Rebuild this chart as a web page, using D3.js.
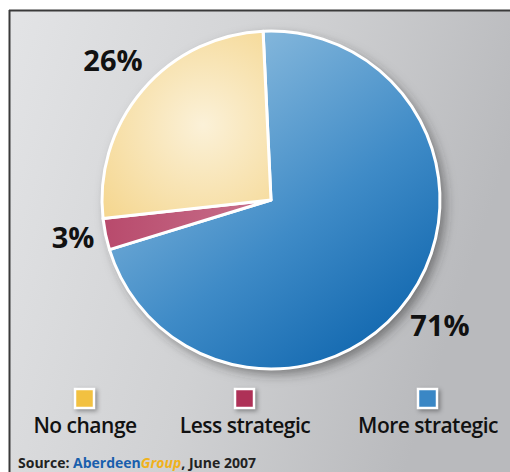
<!DOCTYPE html>
<html>
<head>
<meta charset="utf-8">
<script src="https://cdn.jsdelivr.net/npm/d3@7"></script>
<style>
  body { margin: 0; background: #fff; }
  svg { display: block; font-family: "Open Sans", "DejaVu Sans", sans-serif; }
</style>
</head>
<body>
<svg width="510" height="472"></svg>
<script>
// chart data
var categories = ["More strategic", "Less strategic", "No change"];
var values = [71, 3, 26];
var labels = ["71%", "3%", "26%"];
var legendOrder = ["No change", "Less strategic", "More strategic"];

var svg = d3.select("svg");
const width = 510, height = 472;
const cx = 271, cy = 200, radius = 169;

var defs = svg.append("defs");

// background gradient
var bg = defs.append("linearGradient").attr("id", "bg")
    .attr("x1", 0).attr("y1", 0).attr("x2", 1).attr("y2", 0.3);
bg.append("stop").attr("offset", "0%").attr("stop-color", "#e3e4e6");
bg.append("stop").attr("offset", "55%").attr("stop-color", "#d0d1d3");
bg.append("stop").attr("offset", "100%").attr("stop-color", "#b9babd");

// slice gradients (coords relative to pie centre)
var gBlue = defs.append("linearGradient").attr("id", "gBlue")
    .attr("gradientUnits", "userSpaceOnUse")
    .attr("x1", -70).attr("y1", -130).attr("x2", 150).attr("y2", 160);
gBlue.append("stop").attr("offset", "0%").attr("stop-color", "#86b8dc");
gBlue.append("stop").attr("offset", "50%").attr("stop-color", "#3f8bc7");
gBlue.append("stop").attr("offset", "100%").attr("stop-color", "#0860aa");

var gYellow = defs.append("radialGradient").attr("id", "gYellow")
    .attr("gradientUnits", "userSpaceOnUse")
    .attr("cx", -68).attr("cy", -75).attr("r", 150);
gYellow.append("stop").attr("offset", "0%").attr("stop-color", "#fbf1d8");
gYellow.append("stop").attr("offset", "100%").attr("stop-color", "#f4d386");

var gRed = defs.append("linearGradient").attr("id", "gRed")
    .attr("x1", 0).attr("y1", 0).attr("x2", 1).attr("y2", 0);
gRed.append("stop").attr("offset", "0%").attr("stop-color", "#b84a6c");
gRed.append("stop").attr("offset", "100%").attr("stop-color", "#c8718c");

var shadow = defs.append("filter").attr("id", "shadow")
    .attr("x", "-20%").attr("y", "-20%").attr("width", "140%").attr("height", "140%");
shadow.append("feDropShadow").attr("dx", 5).attr("dy", 5)
    .attr("stdDeviation", 6).attr("flood-color", "#333").attr("flood-opacity", 0.55);

var fills = {"More strategic": "url(#gBlue)", "Less strategic": "url(#gRed)", "No change": "url(#gYellow)"};
var legendColors = {"No change": "#f2c141", "Less strategic": "#ae3157", "More strategic": "#3a87c5"};

// frame
svg.append("rect").attr("x", 9).attr("y", 10)
    .attr("width", width - 9).attr("height", height - 10)
    .attr("fill", "url(#bg)");
svg.append("line").attr("x1", 9).attr("x2", width).attr("y1", 10.5).attr("y2", 10.5)
    .attr("stroke", "#3a3a3a").attr("stroke-width", 2);
svg.append("line").attr("x1", 9.5).attr("x2", 9.5).attr("y1", 10).attr("y2", height)
    .attr("stroke", "#3a3a3a").attr("stroke-width", 2);

// pie
var pie = d3.pie().sort(null).value(function(d) { return d; })
    .startAngle(-0.047).endAngle(-0.047 + 2 * Math.PI);
var arc = d3.arc().innerRadius(0).outerRadius(radius);

var pieG = svg.append("g").attr("transform", "translate(" + cx + "," + cy + ")");
pieG.append("circle").attr("r", radius).attr("fill", "#fff").attr("filter", "url(#shadow)");
pieG.selectAll("path")
    .data(pie(values))
    .enter().append("path")
    .attr("d", arc)
    .attr("fill", function(d, i) { return fills[categories[i]]; })
    .attr("stroke", "#fff")
    .attr("stroke-width", 3)
    .attr("stroke-linejoin", "round");

// percentage labels
var labelPos = [[440, 336], [73, 248], [113, 71]];
svg.selectAll("text.pct")
    .data(labels)
    .enter().append("text")
    .attr("class", "pct")
    .attr("x", function(d, i) { return labelPos[i][0]; })
    .attr("y", function(d, i) { return labelPos[i][1]; })
    .attr("text-anchor", "middle")
    .attr("font-size", 29)
    .attr("font-weight", 700)
    .attr("fill", "#111")
    .text(function(d) { return d; });

// legend
var legendX = d3.scaleOrdinal().domain(legendOrder).range([85, 245, 428]);
var leg = svg.selectAll("g.leg")
    .data(legendOrder)
    .enter().append("g")
    .attr("class", "leg")
    .attr("transform", function(d) { return "translate(" + legendX(d) + ",0)"; });
leg.append("rect")
    .attr("x", -10).attr("y", 389).attr("width", 19).attr("height", 19)
    .attr("fill", function(d) { return legendColors[d]; })
    .attr("stroke", "#fff").attr("stroke-width", 2.5)
    .style("filter", "drop-shadow(2px 2px 2px rgba(0,0,0,0.35))");
leg.append("text")
    .attr("y", 433)
    .attr("text-anchor", "middle")
    .attr("font-size", 21)
    .attr("font-weight", 600)
    .attr("letter-spacing", -0.5)
    .attr("fill", "#111")
    .text(function(d) { return d; });

// source line
var src = svg.append("text").attr("x", 18).attr("y", 468)
    .attr("font-size", 14).attr("font-weight", 700).attr("fill", "#222");
src.append("tspan").text("Source: ");
src.append("tspan").attr("fill", "#1a5fad").text("Aberdeen");
src.append("tspan").attr("fill", "#f0b21c").attr("font-style", "italic").text("Group");
src.append("tspan").text(", June 2007");
</script>
</body>
</html>
